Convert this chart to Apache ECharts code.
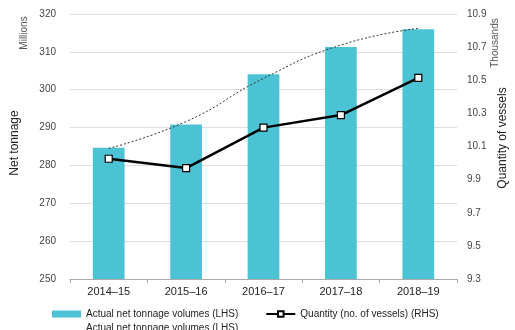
<!DOCTYPE html>
<html>
<head>
<meta charset="utf-8">
<script src="https://cdn.jsdelivr.net/npm/echarts@6/dist/echarts.min.js"></script>
<style>
  html, body { margin: 0; padding: 0; background: #fff; }
  #chart { width: 515px; height: 330px; }
</style>
</head>
<body>
<div id="chart"></div>
<script>
// Financial years on the category axis
const years = ['2014\u201315', '2015\u201316', '2016\u201317', '2017\u201318', '2018\u201319'];
// Net tonnage volumes, millions (left axis)
const netTonnage = [284.7, 290.8, 304.1, 311.3, 316.0];
// Smoothed trend of net tonnage, millions (left axis)
const tonnageTrend = [284.5, 291.6, 303.0, 311.8, 316.2];
// Number of vessels, thousands (right axis)
const vessels = [10.026, 9.970, 10.214, 10.290, 10.514];
// Axis tick settings
const leftTicks = { min: 250, max: 320, interval: 10 };
const rightTicks = { min: 9.3, max: 10.9, interval: 0.2 };

const FONT = 'Liberation Sans, Arial, sans-serif';

const chart = echarts.init(document.getElementById('chart'), null, { renderer: 'canvas' });

chart.setOption({
  animation: false,
  textStyle: { fontFamily: FONT },
  grid: { left: 70, right: 58, top: 14, bottom: 51, containLabel: false },
  xAxis: {
    type: 'category',
    data: years,
    axisLine: { lineStyle: { color: '#aaa', width: 1 } },
    axisTick: { show: true, length: 4, lineStyle: { color: '#aaa' } },
    axisLabel: { color: '#222', fontSize: 11, margin: 7, fontFamily: FONT }
  },
  yAxis: [
    {
      type: 'value',
      min: leftTicks.min, max: leftTicks.max, interval: leftTicks.interval,
      axisLine: { show: false },
      axisTick: { show: false },
      axisLabel: { color: '#444', fontSize: 10, margin: 14, fontFamily: FONT },
      splitLine: { lineStyle: { color: '#dedede', width: 1 } }
    },
    {
      type: 'value',
      min: rightTicks.min, max: rightTicks.max, interval: rightTicks.interval,
      axisLine: { show: false },
      axisTick: { show: false },
      axisLabel: {
        color: '#444', fontSize: 10, margin: 10, fontFamily: FONT,
        formatter: v => v.toFixed(1)
      },
      splitLine: { show: false }
    }
  ],
  legend: [
    {
      left: 52, top: 309, padding: 0,
      itemGap: 27,
      itemWidth: 29, itemHeight: 7,
      textStyle: { color: '#222', fontSize: 10, fontFamily: FONT },
      data: [
        { name: 'Actual net tonnage volumes (LHS)', icon: 'rect' },
        { name: 'Quantity (no. of vessels) (RHS)' }
      ]
    },
    {
      left: 52, top: 323, padding: 0,
      itemWidth: 29, itemHeight: 7,
      textStyle: { color: '#222', fontSize: 10, fontFamily: FONT },
      formatter: () => 'Actual net tonnage volumes (LHS)',
      data: [{ name: 'trend', icon: 'none' }]
    }
  ],
  graphic: [
    {
      type: 'text', x: 24, y: 33, rotation: Math.PI / 2,
      style: { text: 'Millions', fill: '#555', font: '10px ' + FONT, textAlign: 'center', textVerticalAlign: 'middle' }
    },
    {
      type: 'text', x: 15, y: 143, rotation: Math.PI / 2,
      style: { text: 'Net tonnage', fill: '#222', font: '12px ' + FONT, textAlign: 'center', textVerticalAlign: 'middle' }
    },
    {
      type: 'text', x: 495, y: 43, rotation: Math.PI / 2,
      style: { text: 'Thousands', fill: '#555', font: '10px ' + FONT, textAlign: 'center', textVerticalAlign: 'middle' }
    },
    {
      type: 'text', x: 503, y: 138, rotation: Math.PI / 2,
      style: { text: 'Quantity of vessels', fill: '#222', font: '12px ' + FONT, textAlign: 'center', textVerticalAlign: 'middle' }
    }
  ],
  series: [
    {
      name: 'Actual net tonnage volumes (LHS)',
      type: 'bar',
      yAxisIndex: 0,
      data: netTonnage,
      barWidth: '41%',
      itemStyle: { color: '#4CC3D4' },
      z: 1
    },
    {
      name: 'trend',
      type: 'line',
      yAxisIndex: 0,
      data: tonnageTrend,
      smooth: 0.5,
      symbol: 'none',
      lineStyle: { color: '#333', width: 1, type: [2, 2] },
      itemStyle: { color: '#333' },
      z: 3
    },
    {
      name: 'Quantity (no. of vessels) (RHS)',
      type: 'line',
      yAxisIndex: 1,
      data: vessels,
      symbol: 'rect',
      symbolSize: 7,
      lineStyle: { color: '#000', width: 2.5 },
      itemStyle: { color: '#fff', borderColor: '#000', borderWidth: 1.2 },
      z: 4
    }
  ]
});
</script>
</body>
</html>
